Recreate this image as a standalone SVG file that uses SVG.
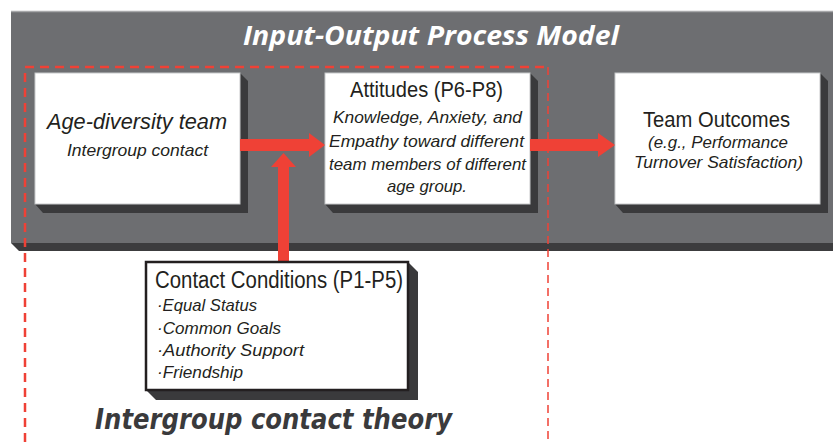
<svg xmlns="http://www.w3.org/2000/svg" width="833" height="442" viewBox="0 0 833 442">
<style>
.box{fill:#ffffff;stroke:#c8c9cb;stroke-width:1}
.shadow{fill:#3a3a3c}
.arrow{fill:#ef4136}
.t{font-family:"Liberation Sans","Open Sans",sans-serif;fill:#231f20}
.head{font-size:22px}
.sub{font-size:17px;font-style:italic}
.bul{font-size:17px;font-style:italic}
</style>
<rect width="833" height="442" fill="#ffffff"/>
<g id="panel">
<rect x="11" y="11" width="830" height="232" fill="#6d6e71"/>
<line x1="11" y1="11.5" x2="833" y2="11.5" stroke="#a7a8aa" stroke-width="1.5"/>
<polygon points="11,243 833,243 833,251 19,251" fill="#3c3c3e"/>
<text x="431" y="45" text-anchor="middle" textLength="376" lengthAdjust="spacingAndGlyphs" font-family="'Open Sans','Liberation Sans',sans-serif" font-size="27" font-weight="bold" font-style="italic" fill="#ffffff">Input-Output Process Model</text>
</g>
<g id="theory-frame" fill="none" stroke="#ef4136">
<path d="M25,442 V67 H548" stroke-width="2.5" stroke-dasharray="9,6"/>
<path d="M548,67 V442" stroke-width="1.5" stroke-dasharray="8,5"/>
</g>
<g id="age-diversity-team">
<polygon class="shadow" points="240,73 248,81 248,213 43,213 35,204"/>
<rect class="box" x="35" y="73" width="205" height="131"/>
<text class="t head" x="47" y="129" font-style="italic" textLength="180" lengthAdjust="spacingAndGlyphs">Age-diversity team</text>
<text class="t sub" x="67" y="156" textLength="141" lengthAdjust="spacingAndGlyphs">Intergroup contact</text>
</g>
<g id="attitudes">
<polygon class="shadow" points="530,73 538,81 538,213 333,213 325,204"/>
<rect class="box" x="325" y="73" width="205" height="131"/>
<text class="t head" x="350" y="97" textLength="153" lengthAdjust="spacingAndGlyphs">Attitudes (P6-P8)</text>
<text class="t sub" x="333" y="123" textLength="189" lengthAdjust="spacingAndGlyphs">Knowledge, Anxiety, and</text>
<text class="t sub" x="329" y="147" textLength="195" lengthAdjust="spacingAndGlyphs">Empathy toward different</text>
<text class="t sub" x="329" y="170" textLength="197" lengthAdjust="spacingAndGlyphs">team members of different</text>
<text class="t sub" x="387" y="192" textLength="80" lengthAdjust="spacingAndGlyphs">age group.</text>
</g>
<g id="team-outcomes">
<polygon class="shadow" points="820,73 828,81 828,213 623,213 615,204"/>
<rect class="box" x="615" y="73" width="205" height="131"/>
<text class="t head" x="643" y="127" textLength="147" lengthAdjust="spacingAndGlyphs">Team Outcomes</text>
<text class="t sub" x="648" y="148" textLength="140" lengthAdjust="spacingAndGlyphs">(e.g., Performance</text>
<text class="t sub" x="634" y="168" textLength="169" lengthAdjust="spacingAndGlyphs">Turnover Satisfaction)</text>
</g>
<g id="connectors">
<polygon class="arrow" points="240,139 309,139 309,133 325,145 309,157 309,151 240,151"/>
<polygon class="arrow" points="530,139 598,139 598,133 615,145 598,157 598,151 530,151"/>
<polygon class="arrow" points="278,262 278,167 271,167 283.5,153 296,167 289,167 289,262"/>
</g>
<g id="contact-conditions">
<polygon class="shadow" points="408,262 418,272 418,400 156,400 146,390"/>
<rect x="146" y="262" width="262" height="128" fill="#ffffff" stroke="#231f20" stroke-width="2.5"/>
<text class="t" x="155" y="288" font-size="23" textLength="248" lengthAdjust="spacingAndGlyphs">Contact Conditions (P1-P5)</text>
<text class="t bul" x="157" y="311" textLength="100" lengthAdjust="spacingAndGlyphs">·Equal Status</text>
<text class="t bul" x="157" y="334" textLength="124" lengthAdjust="spacingAndGlyphs">·Common Goals</text>
<text class="t bul" x="157" y="356" textLength="147" lengthAdjust="spacingAndGlyphs">·Authority Support</text>
<text class="t bul" x="157" y="378" textLength="86" lengthAdjust="spacingAndGlyphs">·Friendship</text>
</g>
<g id="theory-label">
<text x="95" y="429" textLength="357" lengthAdjust="spacingAndGlyphs" font-family="'DejaVu Sans','Open Sans',sans-serif" font-size="29" font-weight="bold" font-style="italic" fill="#3a3a3c">Intergroup contact theory</text>
</g>
</svg>
